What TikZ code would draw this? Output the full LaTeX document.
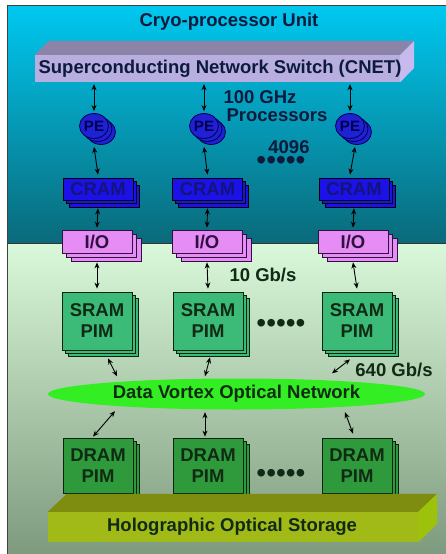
\documentclass[tikz,border=0pt]{standalone}
\usepackage{fontspec}
\setmainfont{Liberation Sans}
\usetikzlibrary{arrows.meta,shapes.geometric,shadows,calc}
\definecolor{topA}{HTML}{00C8F0}
\definecolor{topB}{HTML}{0A6A7A}
\definecolor{botA}{HTML}{DAF8DA}
\definecolor{botB}{HTML}{7E9A7E}
\definecolor{cnetF}{HTML}{B8AEE0}
\definecolor{cnetT}{HTML}{8C84A8}
\definecolor{cnetS}{HTML}{C6BAEE}
\definecolor{peF}{HTML}{2020D4}
\definecolor{peD}{HTML}{000050}
\definecolor{cramF}{HTML}{1A12E6}
\definecolor{cramT}{HTML}{14147A}
\definecolor{ioF}{HTML}{E68CF5}
\definecolor{ioD}{HTML}{301040}
\definecolor{sramF}{HTML}{3CBA78}
\definecolor{dramF}{HTML}{2E9A3C}
\definecolor{boxD}{HTML}{0A2412}
\definecolor{dvF}{HTML}{33EE22}
\definecolor{holF}{HTML}{A2BA18}
\definecolor{holT}{HTML}{7E8C10}
\definecolor{holS}{HTML}{9CC20C}
\definecolor{navy}{HTML}{0C1A3C}
\definecolor{dgreen}{HTML}{102A14}
\tikzset{
  lbl/.style={font=\bfseries\fontsize{18.5}{20}\selectfont, inner sep=0pt},
  pebox/.style={ellipse, minimum width=29pt, minimum height=25pt, inner sep=0pt,
     fill=peF, draw=peD, line width=0.8pt, text=peD,
     font=\bfseries\fontsize{15}{15}\selectfont,
     double copy shadow={shadow xshift=3.5pt, shadow yshift=-3pt}},
  crambox/.style={rectangle, minimum width=70pt, minimum height=22pt, inner sep=0pt,
     fill=cramF, draw=black, line width=0.8pt, text=cramT,
     font=\bfseries\fontsize{18.5}{20}\selectfont,
     double copy shadow={shadow xshift=3pt, shadow yshift=-3.5pt}},
  iobox/.style={rectangle, minimum width=70pt, minimum height=23pt, inner sep=0pt,
     fill=ioF, draw=ioD, line width=0.8pt, text=ioD,
     font=\bfseries\fontsize{18.5}{20}\selectfont,
     double copy shadow={shadow xshift=4.5pt, shadow yshift=-4pt}},
  pimbox/.style={rectangle, minimum width=70pt, inner sep=0pt, align=center,
     draw=boxD, line width=0.8pt, text=dgreen,
     font=\bfseries\fontsize{18.5}{21}\selectfont,
     double copy shadow={shadow xshift=3pt, shadow yshift=-3pt}},
  arr/.style={{Stealth[length=6pt,width=5pt]}-{Stealth[length=6pt,width=5pt]}, line width=0.9pt, black},
  dots/.style={font=\fontsize{28}{28}\selectfont, inner sep=0pt}
}
\begin{document}
\begin{tikzpicture}[x=1pt,y=-1pt]
\useasboundingbox (0,0) rectangle (445,554);
% backgrounds
\fill[white] (0,0) rectangle (445,554);
\shade[top color=topA, bottom color=topB] (7,5) rectangle (446,243);
\shade[top color=botA, bottom color=botB] (7,243) rectangle (446,555);
\draw[black!80, line width=0.8pt] (7,243) -- (446,243);
\draw[black!75, line width=1pt] (7,556) -- (7,5) -- (446,5);

\node[lbl, text=navy] (title) at (229,22) {Cryo-processor Unit};

% CNET slab
\node[rectangle, fill=cnetF, minimum width=365pt, minimum height=27pt, inner sep=0pt] (cnet) at (217.5,68.5) {};
\fill[cnetT] (cnet.north west) -- ++(14,-14) -- ($(cnet.north east)+(14,-14)$) -- (cnet.north east) -- cycle;
\fill[cnetS] (cnet.north east) -- ++(14,-14) -- ++(0,27) -- (cnet.south east) -- cycle;
\node[lbl, text=navy] (cnett) at (220,69) {Superconducting Network Switch (CNET)};

% PEs
\node[pebox] (pe1) at (94,126) {PE};
\node[pebox] (pe2) at (204,126) {PE};
\node[pebox] (pe3) at (350,126) {PE};

\node[lbl, text=navy] (ghz) at (260,97) {100 GHz};
\node[lbl, text=navy] (proc) at (277,115) {Processors};
\node[lbl, text=navy] (n4096) at (289,147) {4096};
\node[dots, text=navy] (dots1) at (281,163) {•••••};

% CRAM
\node[crambox] (cram1) at (98,189) {CRAM};
\node[crambox] (cram2) at (207.5,189) {CRAM};
\node[crambox] (cram3) at (354,189) {CRAM};

% I/O
\node[iobox] (io1) at (97,241.5) {I/O};
\node[iobox] (io2) at (207,241.5) {I/O};
\node[iobox] (io3) at (353,241.5) {I/O};

\node[lbl, text=dgreen] (gb10) at (263,275) {10 Gb/s};

% SRAM
\node[pimbox, fill=sramF, minimum height=58pt] (sram1) at (97,321) {SRAM\\PIM};
\node[pimbox, fill=sramF, minimum height=58pt] (sram2) at (208,321) {SRAM\\PIM};
\node[pimbox, fill=sramF, minimum height=58pt] (sram3) at (357,321) {SRAM\\PIM};
\node[dots, text=dgreen] (dots2) at (281,326) {•••••};

\node[lbl, text=dgreen] (gb640) at (394,370) {640 Gb/s};

% Data Vortex
\node[ellipse, fill=dvF, minimum width=377pt, minimum height=31pt, inner sep=0pt] (dv) at (236.5,394) {};
\node[lbl, text=dgreen] (dvt) at (236.5,394) {Data Vortex Optical Network};

% DRAM
\node[pimbox, fill=dramF, minimum height=55pt] (dram1) at (98,465.5) {DRAM\\PIM};
\node[pimbox, fill=dramF, minimum height=55pt] (dram2) at (208,465.5) {DRAM\\PIM};
\node[pimbox, fill=dramF, minimum height=55pt] (dram3) at (357,465.5) {DRAM\\PIM};
\node[dots, text=dgreen] (dots3) at (281,476) {•••••};

% Holographic slab
\node[rectangle, fill=holF, minimum width=370pt, minimum height=30pt, inner sep=0pt] (holo) at (233,527) {};
\fill[holT] (holo.north west) -- ++(19,-18) -- ($(holo.north east)+(19,-18)$) -- (holo.north east) -- cycle;
\fill[holS] (holo.north east) -- ++(19,-18) -- ++(0,30) -- (holo.south east) -- cycle;
\node[lbl, text=dgreen] (holot) at (232,527) {Holographic Optical Storage};

% connectors
\foreach \i in {1,2,3} {
  \draw[arr, shorten <=2pt, shorten >=2pt] (cnet.south -| pe\i.north) -- (pe\i.north);
}
\draw[arr] ([shift={(0,8)}]pe1.south) -- ([shift={(0,-3)}]cram1.north);
\draw[arr] ([shift={(0,8)}]pe2.south) -- ([shift={(0,-3)}]cram2.north);
\draw[arr] ([shift={(5,8)}]pe3.south) -- ([shift={(-4,-3)}]cram3.north);

\draw[arr] ([shift={(0,8)}]cram1.south) -- ([shift={(0,-2)}]io1.north);
\draw[arr] ([shift={(0,8)}]cram2.south) -- ([shift={(0,-2)}]io2.north);
\draw[arr] ([shift={(0,8)}]cram3.south) -- ([shift={(0,-2)}]io3.north);

\draw[arr] ([shift={(0,9)}]io1.south) -- ([shift={(0,-3)}]sram1.north);
\draw[arr] ([shift={(0,9)}]io2.south) -- ([shift={(0,-3)}]sram2.north);
\draw[arr] ([shift={(0,9)}]io3.south) -- ([shift={(0,-3)}]sram3.north);

\draw[arr] ([shift={(11,8)}]sram1.south) -- ([shift={(-119.5,-2)}]dv.north);
\draw[arr] ([shift={(2,7)}]sram2.south) -- ([shift={(-31.5,-2)}]dv.north);
\draw[arr] ([shift={(-7,9)}]sram3.south) -- ([shift={(95.5,-5)}]dv.north);

\draw[arr] ([shift={(-121.5,1.5)}]dv.south) -- ([shift={(-5,-1)}]dram1.north);
\draw[arr] ([shift={(-31.5,2.5)}]dv.south) -- ([shift={(-3,-1)}]dram2.north);
\draw[arr] ([shift={(108.5,2.5)}]dv.south) -- ([shift={(-4,-4)}]dram3.north);
\end{tikzpicture}
\end{document}
